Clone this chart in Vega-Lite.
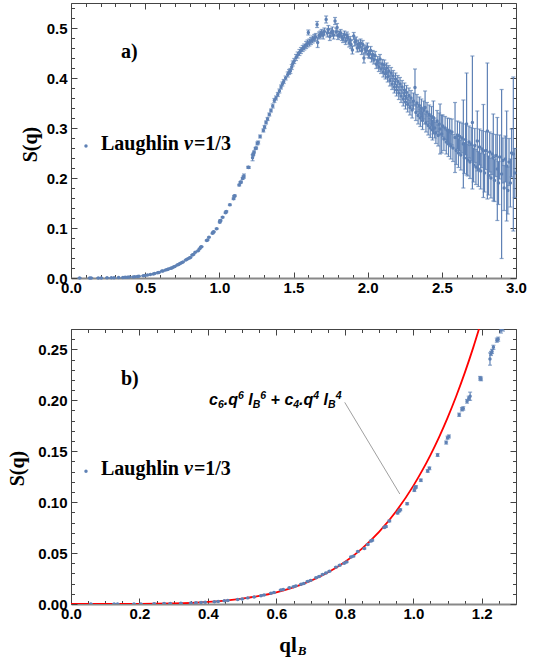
{
  "$schema": "https://vega.github.io/schema/vega-lite/v6.json",
  "padding": {"top": 0, "left": 6, "right": 10, "bottom": 4},
  "spacing": 23,
  "datasets": {
    "pts": [
      {"q":0.058,"s":0.0000,"e":0.0003},{"q":0.126,"s":0.0000,"e":0.0003},{"q":0.136,"s":0.0001,"e":0.0003},
      {"q":0.184,"s":0.0001,"e":0.0003},{"q":0.204,"s":0.0001,"e":0.0003},{"q":0.243,"s":0.0003,"e":0.0003},
      {"q":0.272,"s":0.0004,"e":0.0003},{"q":0.290,"s":0.0005,"e":0.0003},{"q":0.321,"s":0.0008,"e":0.0003},
      {"q":0.350,"s":0.0011,"e":0.0003},{"q":0.365,"s":0.0013,"e":0.0003},{"q":0.380,"s":0.0016,"e":0.0003},
      {"q":0.392,"s":0.0018,"e":0.0003},{"q":0.419,"s":0.0022,"e":0.0003},{"q":0.430,"s":0.0025,"e":0.0003},
      {"q":0.448,"s":0.0031,"e":0.0003},{"q":0.458,"s":0.0035,"e":0.0003},{"q":0.487,"s":0.0045,"e":0.0003},
      {"q":0.500,"s":0.0050,"e":0.0003},{"q":0.516,"s":0.0060,"e":0.0003},{"q":0.535,"s":0.0069,"e":0.0003},
      {"q":0.555,"s":0.0082,"e":0.0003},{"q":0.564,"s":0.0088,"e":0.0003},{"q":0.584,"s":0.0106,"e":0.0003},
      {"q":0.593,"s":0.0112,"e":0.0003},{"q":0.613,"s":0.0138,"e":0.0004},{"q":0.620,"s":0.0142,"e":0.0004},
      {"q":0.638,"s":0.0160,"e":0.0004},{"q":0.650,"s":0.0170,"e":0.0004},{"q":0.657,"s":0.0178,"e":0.0004},
      {"q":0.672,"s":0.0194,"e":0.0004},{"q":0.680,"s":0.0201,"e":0.0004},{"q":0.691,"s":0.0222,"e":0.0004},
      {"q":0.700,"s":0.0232,"e":0.0004},{"q":0.716,"s":0.0258,"e":0.0005},{"q":0.725,"s":0.0270,"e":0.0005},
      {"q":0.735,"s":0.0290,"e":0.0005},{"q":0.745,"s":0.0305,"e":0.0005},{"q":0.755,"s":0.0322,"e":0.0005},
      {"q":0.774,"s":0.0362,"e":0.0005},{"q":0.785,"s":0.0380,"e":0.0005},{"q":0.798,"s":0.0400,"e":0.0005},
      {"q":0.805,"s":0.0412,"e":0.0005},{"q":0.818,"s":0.0462,"e":0.0006},{"q":0.825,"s":0.0470,"e":0.0006},
      {"q":0.838,"s":0.0515,"e":0.0006},{"q":0.857,"s":0.0545,"e":0.0006},{"q":0.867,"s":0.0585,"e":0.0006},
      {"q":0.876,"s":0.0618,"e":0.0007},{"q":0.880,"s":0.0625,"e":0.0007},{"q":0.915,"s":0.0750,"e":0.0008},
      {"q":0.920,"s":0.0760,"e":0.0008},{"q":0.930,"s":0.0815,"e":0.0008},{"q":0.954,"s":0.0893,"e":0.0009},
      {"q":0.959,"s":0.0914,"e":0.0009},{"q":0.962,"s":0.0925,"e":0.0009},{"q":0.982,"s":0.0985,"e":0.0010},
      {"q":1.003,"s":0.1117,"e":0.0012},{"q":1.005,"s":0.1143,"e":0.0012},{"q":1.008,"s":0.1150,"e":0.0012},
      {"q":1.022,"s":0.1215,"e":0.0012},{"q":1.042,"s":0.1306,"e":0.0013},{"q":1.047,"s":0.1332,"e":0.0013},
      {"q":1.071,"s":0.1463,"e":0.0014},{"q":1.096,"s":0.1585,"e":0.0015},{"q":1.100,"s":0.1633,"e":0.0015},
      {"q":1.104,"s":0.1645,"e":0.0015},{"q":1.134,"s":0.1858,"e":0.0016},{"q":1.142,"s":0.1912,"e":0.0017},
      {"q":1.146,"s":0.1920,"e":0.0017},{"q":1.157,"s":0.1990,"e":0.0018},{"q":1.162,"s":0.2020,"e":0.0020},
      {"q":1.166,"s":0.2040,"e":0.0040},{"q":1.195,"s":0.2216,"e":0.0018},{"q":1.198,"s":0.2210,"e":0.0018},
      {"q":1.224,"s":0.2405,"e":0.0060},{"q":1.227,"s":0.2460,"e":0.0020},{"q":1.230,"s":0.2480,"e":0.0020},
      {"q":1.234,"s":0.2520,"e":0.0020},{"q":1.244,"s":0.2590,"e":0.0020},{"q":1.248,"s":0.2600,"e":0.0020},
      {"q":1.256,"s":0.2690,"e":0.0030},{"q":1.262,"s":0.2710,"e":0.0030},
      {"q":1.275,"s":0.283,"e":0.003},{"q":1.297,"s":0.295,"e":0.003},{"q":1.305,"s":0.302,"e":0.003},
      {"q":1.315,"s":0.311,"e":0.003},{"q":1.325,"s":0.318,"e":0.003},{"q":1.337,"s":0.327,"e":0.003},
      {"q":1.348,"s":0.335,"e":0.003},{"q":1.360,"s":0.344,"e":0.004},{"q":1.371,"s":0.355,"e":0.004},
      {"q":1.382,"s":0.360,"e":0.004},{"q":1.394,"s":0.367,"e":0.004},{"q":1.405,"s":0.374,"e":0.004},
      {"q":1.416,"s":0.382,"e":0.004},{"q":1.425,"s":0.388,"e":0.004},{"q":1.434,"s":0.393,"e":0.004},
      {"q":1.447,"s":0.400,"e":0.004},{"q":1.461,"s":0.407,"e":0.005},{"q":1.470,"s":0.412,"e":0.005},
      {"q":1.479,"s":0.414,"e":0.005},{"q":1.488,"s":0.422,"e":0.005},{"q":1.495,"s":0.429,"e":0.005},
      {"q":1.505,"s":0.434,"e":0.005},{"q":1.517,"s":0.441,"e":0.006},{"q":1.528,"s":0.446,"e":0.006},
      {"q":1.540,"s":0.451,"e":0.006},{"q":1.550,"s":0.455,"e":0.006},{"q":1.562,"s":0.459,"e":0.006},
      {"q":1.573,"s":0.462,"e":0.006},{"q":1.585,"s":0.466,"e":0.007},{"q":1.595,"s":0.469,"e":0.007},
      {"q":1.600,"s":0.491,"e":0.005},{"q":1.607,"s":0.471,"e":0.007},{"q":1.618,"s":0.474,"e":0.007},
      {"q":1.629,"s":0.477,"e":0.007},{"q":1.640,"s":0.480,"e":0.007},{"q":1.650,"s":0.482,"e":0.007},
      {"q":1.659,"s":0.507,"e":0.006},{"q":1.663,"s":0.471,"e":0.010},{"q":1.672,"s":0.485,"e":0.007},
      {"q":1.681,"s":0.487,"e":0.007},{"q":1.690,"s":0.490,"e":0.007},{"q":1.700,"s":0.486,"e":0.008},
      {"q":1.708,"s":0.493,"e":0.007},{"q":1.720,"s":0.517,"e":0.007},{"q":1.728,"s":0.490,"e":0.008},
      {"q":1.735,"s":0.497,"e":0.008},{"q":1.745,"s":0.483,"e":0.008},{"q":1.753,"s":0.491,"e":0.008},
      {"q":1.762,"s":0.494,"e":0.008},{"q":1.770,"s":0.486,"e":0.008},{"q":1.780,"s":0.514,"e":0.007},
      {"q":1.787,"s":0.492,"e":0.008},{"q":1.794,"s":0.501,"e":0.008},{"q":1.800,"s":0.485,"e":0.008},
      {"q":1.809,"s":0.487,"e":0.007},{"q":1.818,"s":0.490,"e":0.007},{"q":1.826,"s":0.482,"e":0.007},
      {"q":1.834,"s":0.478,"e":0.007},{"q":1.843,"s":0.487,"e":0.007},{"q":1.852,"s":0.474,"e":0.007},
      {"q":1.860,"s":0.485,"e":0.007},{"q":1.866,"s":0.481,"e":0.007},{"q":1.875,"s":0.470,"e":0.008},
      {"q":1.882,"s":0.476,"e":0.007},{"q":1.888,"s":0.467,"e":0.008},{"q":1.897,"s":0.456,"e":0.008},
      {"q":1.906,"s":0.484,"e":0.007},{"q":1.914,"s":0.472,"e":0.008},{"q":1.922,"s":0.474,"e":0.008},
      {"q":1.930,"s":0.460,"e":0.008},{"q":1.937,"s":0.468,"e":0.008},{"q":1.944,"s":0.461,"e":0.008},
      {"q":1.952,"s":0.470,"e":0.008},{"q":1.960,"s":0.455,"e":0.008},{"q":1.967,"s":0.467,"e":0.008},
      {"q":1.975,"s":0.440,"e":0.010},{"q":1.982,"s":0.458,"e":0.008},{"q":1.989,"s":0.454,"e":0.008},
      {"q":1.998,"s":0.462,"e":0.008},
      {"q":2.005,"s":0.448,"e":0.007},{"q":2.011,"s":0.447,"e":0.008},{"q":2.020,"s":0.455,"e":0.008},
      {"q":2.027,"s":0.440,"e":0.008},{"q":2.034,"s":0.447,"e":0.008},{"q":2.042,"s":0.436,"e":0.008},
      {"q":2.050,"s":0.445,"e":0.008},{"q":2.058,"s":0.428,"e":0.009},{"q":2.068,"s":0.434,"e":0.009},
      {"q":2.075,"s":0.422,"e":0.009},{"q":2.083,"s":0.438,"e":0.009},{"q":2.090,"s":0.418,"e":0.009},
      {"q":2.098,"s":0.428,"e":0.009},{"q":2.105,"s":0.412,"e":0.010},{"q":2.112,"s":0.426,"e":0.010},
      {"q":2.120,"s":0.408,"e":0.010},{"q":2.128,"s":0.420,"e":0.010},{"q":2.135,"s":0.402,"e":0.010},
      {"q":2.142,"s":0.414,"e":0.011},{"q":2.150,"s":0.395,"e":0.011},{"q":2.158,"s":0.410,"e":0.011},
      {"q":2.165,"s":0.388,"e":0.011},{"q":2.172,"s":0.404,"e":0.011},{"q":2.180,"s":0.382,"e":0.012},
      {"q":2.188,"s":0.398,"e":0.012},{"q":2.195,"s":0.376,"e":0.012},{"q":2.203,"s":0.393,"e":0.012},
      {"q":2.210,"s":0.370,"e":0.013},{"q":2.218,"s":0.388,"e":0.013},{"q":2.225,"s":0.364,"e":0.013},
      {"q":2.232,"s":0.382,"e":0.013},{"q":2.240,"s":0.358,"e":0.014},{"q":2.248,"s":0.376,"e":0.014},
      {"q":2.255,"s":0.352,"e":0.014},{"q":2.262,"s":0.371,"e":0.014},{"q":2.270,"s":0.347,"e":0.015},
      {"q":2.278,"s":0.365,"e":0.015},{"q":2.285,"s":0.341,"e":0.015},{"q":2.292,"s":0.360,"e":0.015},
      {"q":2.300,"s":0.336,"e":0.016},{"q":2.308,"s":0.354,"e":0.016},{"q":2.319,"s":0.381,"e":0.037},
      {"q":2.325,"s":0.331,"e":0.016},{"q":2.332,"s":0.350,"e":0.017},{"q":2.340,"s":0.325,"e":0.017},
      {"q":2.348,"s":0.345,"e":0.017},{"q":2.355,"s":0.320,"e":0.017},{"q":2.362,"s":0.340,"e":0.018},
      {"q":2.370,"s":0.315,"e":0.018},{"q":2.378,"s":0.336,"e":0.018},{"q":2.387,"s":0.341,"e":0.033},
      {"q":2.393,"s":0.310,"e":0.018},{"q":2.400,"s":0.332,"e":0.019},{"q":2.408,"s":0.305,"e":0.019},
      {"q":2.415,"s":0.327,"e":0.019},{"q":2.422,"s":0.300,"e":0.019},{"q":2.430,"s":0.323,"e":0.020},
      {"q":2.437,"s":0.296,"e":0.020},{"q":2.443,"s":0.321,"e":0.033},{"q":2.452,"s":0.300,"e":0.020},
      {"q":2.460,"s":0.290,"e":0.021},{"q":2.468,"s":0.314,"e":0.021},{"q":2.475,"s":0.285,"e":0.021},
      {"q":2.482,"s":0.308,"e":0.022},{"q":2.488,"s":0.298,"e":0.050},{"q":2.499,"s":0.288,"e":0.038},
      {"q":2.506,"s":0.304,"e":0.022},{"q":2.514,"s":0.278,"e":0.023},{"q":2.522,"s":0.300,"e":0.023},
      {"q":2.530,"s":0.272,"e":0.024},{"q":2.538,"s":0.296,"e":0.024},{"q":2.545,"s":0.268,"e":0.025},
      {"q":2.553,"s":0.294,"e":0.025},{"q":2.560,"s":0.264,"e":0.026},{"q":2.568,"s":0.292,"e":0.026},
      {"q":2.575,"s":0.260,"e":0.027},{"q":2.589,"s":0.281,"e":0.070},{"q":2.597,"s":0.255,"e":0.028},
      {"q":2.605,"s":0.286,"e":0.028},{"q":2.612,"s":0.250,"e":0.029},{"q":2.620,"s":0.283,"e":0.029},
      {"q":2.628,"s":0.246,"e":0.030},{"q":2.636,"s":0.280,"e":0.030},{"q":2.645,"s":0.268,"e":0.088},
      {"q":2.652,"s":0.240,"e":0.031},{"q":2.660,"s":0.277,"e":0.031},{"q":2.667,"s":0.308,"e":0.102},
      {"q":2.675,"s":0.236,"e":0.032},{"q":2.683,"s":0.272,"e":0.032},{"q":2.690,"s":0.232,"e":0.033},
      {"q":2.698,"s":0.268,"e":0.033},{"q":2.706,"s":0.311,"e":0.133},{"q":2.714,"s":0.226,"e":0.034},
      {"q":2.722,"s":0.265,"e":0.034},{"q":2.730,"s":0.222,"e":0.035},{"q":2.739,"s":0.274,"e":0.060},
      {"q":2.746,"s":0.218,"e":0.035},{"q":2.754,"s":0.262,"e":0.036},{"q":2.762,"s":0.214,"e":0.036},
      {"q":2.770,"s":0.258,"e":0.037},{"q":2.780,"s":0.254,"e":0.093},{"q":2.788,"s":0.210,"e":0.038},
      {"q":2.796,"s":0.255,"e":0.038},{"q":2.807,"s":0.294,"e":0.136},{"q":2.815,"s":0.205,"e":0.039},
      {"q":2.823,"s":0.252,"e":0.040},{"q":2.831,"s":0.200,"e":0.040},{"q":2.839,"s":0.248,"e":0.041},
      {"q":2.847,"s":0.241,"e":0.087},{"q":2.855,"s":0.195,"e":0.042},{"q":2.864,"s":0.245,"e":0.042},
      {"q":2.874,"s":0.218,"e":0.103},{"q":2.882,"s":0.190,"e":0.043},{"q":2.890,"s":0.242,"e":0.044},
      {"q":2.903,"s":0.208,"e":0.169},{"q":2.912,"s":0.235,"e":0.045},{"q":2.920,"s":0.180,"e":0.045},
      {"q":2.928,"s":0.238,"e":0.046},{"q":2.937,"s":0.224,"e":0.110},{"q":2.945,"s":0.175,"e":0.047},
      {"q":2.953,"s":0.232,"e":0.047},{"q":2.962,"s":0.190,"e":0.048},{"q":2.970,"s":0.250,"e":0.048},
      {"q":2.982,"s":0.248,"e":0.154},{"q":2.992,"s":0.210,"e":0.049}
    ],
    "curve": [
      {"q":0,"s":0},{"q":0.05,"s":0.0000005},{"q":0.1,"s":0.0000074},{"q":0.15,"s":0.0000379},
      {"q":0.2,"s":0.000121},{"q":0.25,"s":0.000299},{"q":0.3,"s":0.000629},{"q":0.35,"s":0.001185},
      {"q":0.4,"s":0.002062},{"q":0.45,"s":0.003376},{"q":0.5,"s":0.005272},{"q":0.55,"s":0.007921},
      {"q":0.6,"s":0.011533},{"q":0.65,"s":0.016356},{"q":0.7,"s":0.022684},{"q":0.75,"s":0.030861},
      {"q":0.8,"s":0.04129},{"q":0.85,"s":0.05444},{"q":0.9,"s":0.070847},{"q":0.95,"s":0.091132},
      {"q":1.0,"s":0.116},{"q":1.025,"s":0.1304},{"q":1.05,"s":0.146256},{"q":1.075,"s":0.163685},
      {"q":1.1,"s":0.18281},{"q":1.125,"s":0.203764},{"q":1.15,"s":0.226688},{"q":1.175,"s":0.251727},
      {"q":1.2,"s":0.279041}
    ]
  },
  "config": {
    "view": {"stroke": "#444444", "strokeWidth": 1},
    "axis": {
      "grid": false, "domain": false, "labelFlush": false, "labelOverlap": false,
      "labelFont": "Liberation Sans", "labelFontWeight": "bold", "labelFontSize": 15, "labelColor": "#000000",
      "tickColor": "#444444", "tickWidth": 1,
      "titleFont": "Liberation Serif", "titleFontWeight": "bold", "titleFontSize": 20, "titleColor": "#000000"
    }
  },
  "vconcat": [
    {
      "width": 445, "height": 275,
      "layer": [
        {
          "data": {"name": "pts"},
          "mark": {"type": "errorbar", "color": "#5E81B5", "thickness": 1.2, "ticks": {"size": 4}},
          "encoding": {
            "x": {"field": "q", "type": "quantitative", "scale": {"domain": [0, 3], "nice": false, "zero": false},
              "axis": {"orient": "bottom", "title": null, "domain": true, "domainColor": "#888888", "domainWidth": 2,
                "values": [0,0.1,0.2,0.3,0.4,0.5,0.6,0.7,0.8,0.9,1,1.1,1.2,1.3,1.4,1.5,1.6,1.7,1.8,1.9,2,2.1,2.2,2.3,2.4,2.5,2.6,2.7,2.8,2.9,3],
                "labelExpr": "abs(datum.value*2-round(datum.value*2))<0.001 ? format(datum.value,'.1f') : ''",
                "tickSize": {"condition": {"test": "abs(datum.value*2-round(datum.value*2))<0.001", "value": -6}, "value": -3.5},
                "labelPadding": 8}},
            "y": {"field": "s", "type": "quantitative", "scale": {"domain": [0, 0.55], "nice": false},
              "axis": {"orient": "left", "title": "S(q)", "titleX": -41, "titleY": 141, "titleBaseline": "middle", "titleAlign": "center", "titleAngle": -90,
                "values": [0,0.02,0.04,0.06,0.08,0.1,0.12,0.14,0.16,0.18,0.2,0.22,0.24,0.26,0.28,0.3,0.32,0.34,0.36,0.38,0.4,0.42,0.44,0.46,0.48,0.5,0.52,0.54],
                "labelExpr": "abs(datum.value*10-round(datum.value*10))<0.001 ? format(datum.value,'.1f') : ''",
                "tickSize": {"condition": {"test": "abs(datum.value*10-round(datum.value*10))<0.001", "value": -6}, "value": -3.5},
                "labelPadding": 10}},
            "yError": {"field": "e"}
          }
        },
        {
          "data": {"name": "pts"},
          "mark": {"type": "circle", "size": 12, "color": "#5E81B5", "opacity": 1},
          "encoding": {
            "x": {"field": "q", "type": "quantitative",
              "axis": {"orient": "top", "title": null, "labels": false,
                "values": [0,0.1,0.2,0.3,0.4,0.5,0.6,0.7,0.8,0.9,1,1.1,1.2,1.3,1.4,1.5,1.6,1.7,1.8,1.9,2,2.1,2.2,2.3,2.4,2.5,2.6,2.7,2.8,2.9,3],
                "tickSize": {"condition": {"test": "abs(datum.value*2-round(datum.value*2))<0.001", "value": -6}, "value": -3.5}}},
            "y": {"field": "s", "type": "quantitative",
              "axis": {"orient": "right", "title": null, "labels": false,
                "values": [0,0.02,0.04,0.06,0.08,0.1,0.12,0.14,0.16,0.18,0.2,0.22,0.24,0.26,0.28,0.3,0.32,0.34,0.36,0.38,0.4,0.42,0.44,0.46,0.48,0.5,0.52,0.54],
                "tickSize": {"condition": {"test": "abs(datum.value*10-round(datum.value*10))<0.001", "value": -6}, "value": -3.5}}}
          }
        },
        {
          "data": {"values": [{"x": 0.101, "y": 0.264}]},
          "mark": {"type": "circle", "size": 12, "color": "#5E81B5", "opacity": 1},
          "encoding": {"x": {"field": "x", "type": "quantitative", "axis": null}, "y": {"field": "y", "type": "quantitative", "axis": null}}
        },
        {
          "data": {"values": [{"x": 0.2023, "y": 0.256, "t": "Laughlin"}, {"x": 0.829, "y": 0.256, "t": "=1/3"}, {"x": 0.337, "y": 0.44, "t": "a)"}]},
          "mark": {"type": "text", "font": "Liberation Serif", "fontWeight": "bold", "fontSize": 20, "align": "left", "baseline": "alphabetic", "color": "#000000"},
          "encoding": {"x": {"field": "x", "type": "quantitative", "axis": null}, "y": {"field": "y", "type": "quantitative", "axis": null}, "text": {"field": "t"}}
        },
        {
          "data": {"values": [{"x": 0.762, "y": 0.256, "t": "ν"}]},
          "mark": {"type": "text", "font": "Liberation Serif", "fontWeight": "bold", "fontStyle": "italic", "fontSize": 20, "align": "left", "baseline": "alphabetic", "color": "#000000"},
          "encoding": {"x": {"field": "x", "type": "quantitative", "axis": null}, "y": {"field": "y", "type": "quantitative", "axis": null}, "text": {"field": "t"}}
        }
      ],
      "resolve": {"axis": {"x": "independent", "y": "independent"}}
    },
    {
      "width": 445, "height": 275,
      "layer": [
        {
          "data": {"name": "curve"},
          "mark": {"type": "line", "color": "#FF0000", "strokeWidth": 1.8, "clip": true, "interpolate": "monotone"},
          "encoding": {
            "x": {"field": "q", "type": "quantitative", "scale": {"domain": [0, 1.3], "nice": false, "zero": false}, "axis": null},
            "y": {"field": "s", "type": "quantitative", "scale": {"domain": [0, 0.27], "nice": false}, "axis": null}
          }
        },
        {
          "data": {"name": "pts"},
          "transform": [{"filter": "datum.q <= 1.27"}],
          "mark": {"type": "errorbar", "color": "#5E81B5", "thickness": 1.2, "ticks": {"size": 4}, "clip": true},
          "encoding": {
            "x": {"field": "q", "type": "quantitative",
              "axis": {"orient": "bottom", "title": null, "domain": true, "domainColor": "#888888", "domainWidth": 2,
                "values": [0,0.05,0.1,0.15,0.2,0.25,0.3,0.35,0.4,0.45,0.5,0.55,0.6,0.65,0.7,0.75,0.8,0.85,0.9,0.95,1,1.05,1.1,1.15,1.2,1.25,1.3],
                "labelExpr": "abs(datum.value*5-round(datum.value*5))<0.001 ? format(datum.value,'.1f') : ''",
                "tickSize": {"condition": {"test": "abs(datum.value*5-round(datum.value*5))<0.001", "value": -6}, "value": -3.5},
                "labelPadding": 8}},
            "y": {"field": "s", "type": "quantitative",
              "axis": {"orient": "left", "title": "S(q)", "titleX": -54, "titleY": 139, "titleBaseline": "middle", "titleAlign": "center", "titleAngle": -90,
                "values": [0,0.01,0.02,0.03,0.04,0.05,0.06,0.07,0.08,0.09,0.1,0.11,0.12,0.13,0.14,0.15,0.16,0.17,0.18,0.19,0.2,0.21,0.22,0.23,0.24,0.25,0.26,0.27],
                "labelExpr": "abs(datum.value*20-round(datum.value*20))<0.001 ? format(datum.value,'.2f') : ''",
                "tickSize": {"condition": {"test": "abs(datum.value*20-round(datum.value*20))<0.001", "value": -6}, "value": -3.5},
                "labelPadding": 10}},
            "yError": {"field": "e"}
          }
        },
        {
          "data": {"name": "pts"},
          "transform": [{"filter": "datum.q <= 1.27"}],
          "mark": {"type": "circle", "size": 12, "color": "#5E81B5", "opacity": 1, "clip": true},
          "encoding": {
            "x": {"field": "q", "type": "quantitative",
              "axis": {"orient": "top", "title": null, "labels": false,
                "values": [0,0.05,0.1,0.15,0.2,0.25,0.3,0.35,0.4,0.45,0.5,0.55,0.6,0.65,0.7,0.75,0.8,0.85,0.9,0.95,1,1.05,1.1,1.15,1.2,1.25,1.3],
                "tickSize": {"condition": {"test": "abs(datum.value*5-round(datum.value*5))<0.001", "value": -6}, "value": -3.5}}},
            "y": {"field": "s", "type": "quantitative",
              "axis": {"orient": "right", "title": null, "labels": false,
                "values": [0,0.01,0.02,0.03,0.04,0.05,0.06,0.07,0.08,0.09,0.1,0.11,0.12,0.13,0.14,0.15,0.16,0.17,0.18,0.19,0.2,0.21,0.22,0.23,0.24,0.25,0.26,0.27],
                "tickSize": {"condition": {"test": "abs(datum.value*20-round(datum.value*20))<0.001", "value": -6}, "value": -3.5}}}
          }
        },
        {
          "data": {"values": [{"x": 0.7996, "y": 0.198, "x2": 0.9606, "y2": 0.108}]},
          "mark": {"type": "rule", "color": "#a0a0a0", "strokeWidth": 1},
          "encoding": {"x": {"field": "x", "type": "quantitative", "axis": null}, "y": {"field": "y", "type": "quantitative", "axis": null}, "x2": {"field": "x2"}, "y2": {"field": "y2"}}
        },
        {
          "data": {"values": [{"x": 0.0438, "y": 0.1303}]},
          "mark": {"type": "circle", "size": 12, "color": "#5E81B5", "opacity": 1},
          "encoding": {"x": {"field": "x", "type": "quantitative", "axis": null}, "y": {"field": "y", "type": "quantitative", "axis": null}}
        },
        {
          "data": {"values": [{"x": 0.0876, "y": 0.127, "t": "Laughlin"}, {"x": 0.359, "y": 0.127, "t": "=1/3"}, {"x": 0.146, "y": 0.215, "t": "b)"}]},
          "mark": {"type": "text", "font": "Liberation Serif", "fontWeight": "bold", "fontSize": 20, "align": "left", "baseline": "alphabetic", "color": "#000000"},
          "encoding": {"x": {"field": "x", "type": "quantitative", "axis": null}, "y": {"field": "y", "type": "quantitative", "axis": null}, "text": {"field": "t"}}
        },
        {
          "data": {"values": [{"x": 0.330, "y": 0.127, "t": "ν"}]},
          "mark": {"type": "text", "font": "Liberation Serif", "fontWeight": "bold", "fontStyle": "italic", "fontSize": 20, "align": "left", "baseline": "alphabetic", "color": "#000000"},
          "encoding": {"x": {"field": "x", "type": "quantitative", "axis": null}, "y": {"field": "y", "type": "quantitative", "axis": null}, "text": {"field": "t"}}
        },
        {
          "data": {"values": [{"x": 0.6085, "y": -0.0474, "t": "ql"}]},
          "mark": {"type": "text", "font": "Liberation Serif", "fontWeight": "bold", "fontSize": 21, "align": "left", "baseline": "alphabetic", "color": "#000000"},
          "encoding": {"x": {"field": "x", "type": "quantitative", "axis": null}, "y": {"field": "y", "type": "quantitative", "axis": null}, "text": {"field": "t"}}
        },
        {
          "data": {"values": [{"x": 0.6623, "y": -0.0501, "t": "B"}]},
          "mark": {"type": "text", "font": "Liberation Serif", "fontWeight": "bold", "fontStyle": "italic", "fontSize": 13, "align": "left", "baseline": "alphabetic", "color": "#000000"},
          "encoding": {"x": {"field": "x", "type": "quantitative", "axis": null}, "y": {"field": "y", "type": "quantitative", "axis": null}, "text": {"field": "t"}}
        },
        {
          "data": {"values": [
            {"x": 0.4032, "y": 0.1954, "t": "c"}, {"x": 0.4461, "y": 0.1954, "t": ".q"}, {"x": 0.5177, "y": 0.1954, "t": "l"},
            {"x": 0.5831, "y": 0.1954, "t": "+ c"}, {"x": 0.6664, "y": 0.1954, "t": ".q"}, {"x": 0.7380, "y": 0.1954, "t": "l"}]},
          "mark": {"type": "text", "font": "Liberation Sans", "fontWeight": "bold", "fontStyle": "italic", "fontSize": 16, "align": "left", "baseline": "alphabetic", "color": "#000000"},
          "encoding": {"x": {"field": "x", "type": "quantitative", "axis": null}, "y": {"field": "y", "type": "quantitative", "axis": null}, "text": {"field": "t"}}
        },
        {
          "data": {"values": [
            {"x": 0.4292, "y": 0.1924, "t": "6"}, {"x": 0.5308, "y": 0.1924, "t": "B"}, {"x": 0.6494, "y": 0.1924, "t": "4"}, {"x": 0.7511, "y": 0.1924, "t": "B"},
            {"x": 0.4876, "y": 0.2013, "t": "6"}, {"x": 0.5530, "y": 0.2013, "t": "6"}, {"x": 0.7079, "y": 0.2013, "t": "4"}, {"x": 0.7733, "y": 0.2013, "t": "4"}]},
          "mark": {"type": "text", "font": "Liberation Sans", "fontWeight": "bold", "fontStyle": "italic", "fontSize": 10.5, "align": "left", "baseline": "alphabetic", "color": "#000000"},
          "encoding": {"x": {"field": "x", "type": "quantitative", "axis": null}, "y": {"field": "y", "type": "quantitative", "axis": null}, "text": {"field": "t"}}
        }
      ],
      "resolve": {"axis": {"x": "independent", "y": "independent"}}
    }
  ]
}
